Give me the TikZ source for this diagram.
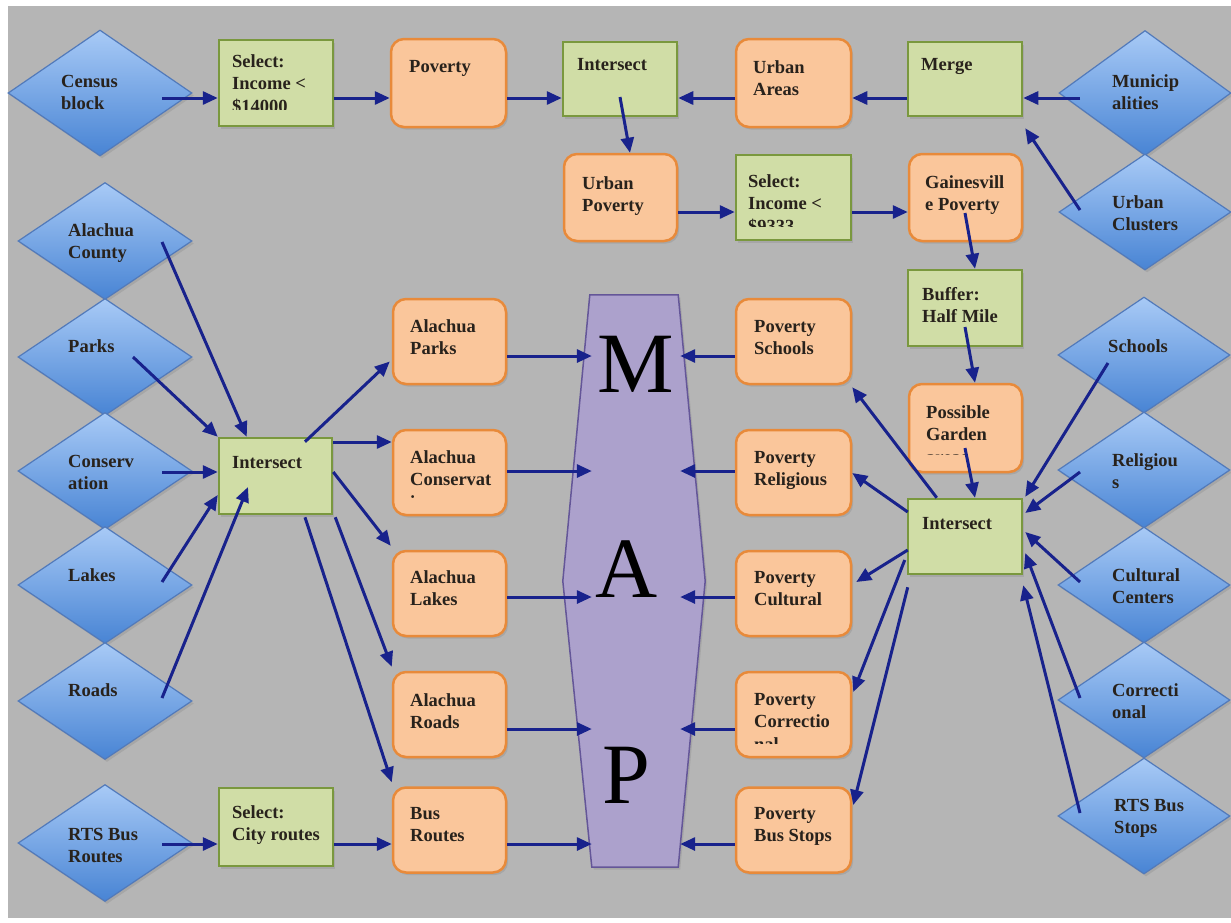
\documentclass[tikz,border=0pt]{standalone}
\usepackage{fontspec}
\setmainfont{Liberation Serif}
\usetikzlibrary{arrows.meta,calc,shapes.geometric,shadows}
\definecolor{bg}{RGB}{181,181,181}
\definecolor{gfill}{RGB}{208,221,166}
\definecolor{gdraw}{RGB}{122,152,62}
\definecolor{ofill}{RGB}{250,198,155}
\definecolor{odraw}{RGB}{232,138,58}
\definecolor{dtop}{RGB}{168,202,246}
\definecolor{dbot}{RGB}{72,132,212}
\definecolor{ddraw}{RGB}{82,122,186}
\definecolor{mfill}{RGB}{172,161,204}
\definecolor{mdraw}{RGB}{100,86,152}
\definecolor{arrc}{RGB}{24,34,140}
\definecolor{txtc}{RGB}{40,34,28}
\newcommand\tx[4]{\node[txt] (#1) at (#2,#3-15.75) {\strut #4};}
\begin{document}
\begin{tikzpicture}[x=1pt,y=-1pt,
  shad/.style={drop shadow={shadow xshift=2pt,shadow yshift=-2.5pt,opacity=0.28}},
  gbox/.style={rectangle,draw=gdraw,fill=gfill,line width=2.5pt,inner sep=0,shad},
  obox/.style={rectangle,rounded corners=13pt,draw=odraw,fill=ofill,line width=2.5pt,inner sep=0,shad},
  dia/.style={diamond,draw=ddraw,line width=1.2pt,top color=dtop,bottom color=dbot,inner sep=0,shad},
  ldia/.style={dia,minimum width=174pt,minimum height=117pt},
  rdia/.style={dia,minimum width=172pt,minimum height=116pt},
  mbox/.style={obox,minimum width=113pt,minimum height=85pt},
  rbox/.style={obox,minimum width=115pt,minimum height=85pt},
  txt/.style={inner sep=0,anchor=north west,align=left,text=txtc,font=\fontsize{18.5}{22.5}\selectfont\bfseries},
  big/.style={inner sep=0,anchor=base,text=black,font=\fontsize{86}{86}\selectfont},
  arr/.style={draw=arrc,line width=3pt,-{Triangle[length=15pt,width=13pt]}},
]
\useasboundingbox (0,0) rectangle (1231,922);
\fill[white] (0,0) rectangle (1231,922);
\fill[bg] (8,6) rectangle (1231,918);

% diamonds left
\node[dia,minimum width=184pt,minimum height=126pt] (census) at (100,93) {};
\node[ldia] (county) at (105,241) {};
\node[ldia] (parks) at (105,357) {};
\node[ldia] (conserv) at (105,471) {};
\node[ldia] (lakes) at (105,585) {};
\node[ldia] (roads) at (105,701) {};
\node[ldia] (routes) at (105,843) {};
% diamonds right
\node[dia,minimum width=172pt,minimum height=125pt] (muni) at (1145,93) {};
\node[rdia] (uclus) at (1145,212) {};
\node[rdia] (schools) at (1144,355) {};
\node[rdia] (relig) at (1144,470) {};
\node[rdia] (cult) at (1144,585) {};
\node[rdia] (corr) at (1144,700) {};
\node[rdia] (stops) at (1144,816) {};

% top boxes
\node[gbox,minimum width=114pt,minimum height=86pt] (sel1) at (276,83) {};
\node[obox,minimum width=115pt,minimum height=88pt] (pov) at (448.5,83) {};
\node[gbox,minimum width=114pt,minimum height=74pt] (int1) at (620,79) {};
\node[obox,minimum width=115pt,minimum height=88pt] (ua) at (793.5,83) {};
\node[gbox,minimum width=114pt,minimum height=74pt] (merge) at (965,79) {};
\node[obox,minimum width=113pt,minimum height=87pt] (upov) at (620.5,197.5) {};
\node[gbox,minimum width=115pt,minimum height=85pt] (sel2) at (793.5,197.5) {};
\node[obox,minimum width=113pt,minimum height=87pt] (gpov) at (965.5,197.5) {};
\node[gbox,minimum width=114pt,minimum height=76pt] (buf) at (965,308) {};
\node[obox,minimum width=113pt,minimum height=88pt] (pg) at (965.5,428) {};
\node[gbox,minimum width=114pt,minimum height=75pt] (int3) at (965,536.5) {};
\node[gbox,minimum width=113pt,minimum height=76pt] (int2) at (275.5,476) {};
\node[gbox,minimum width=114pt,minimum height=78pt] (sel3) at (276,827) {};
% middle boxes
\node[mbox] (ap) at (449.5,341.5) {};
\node[mbox] (ac) at (449.5,472.5) {};
\node[mbox] (al) at (449.5,593.5) {};
\node[mbox] (ar) at (449.5,714.5) {};
\node[mbox] (br) at (449.5,830) {};
\node[rbox] (ps) at (793.5,341.5) {};
\node[rbox] (pr) at (793.5,472.5) {};
\node[rbox] (pc) at (793.5,593.5) {};
\node[rbox] (pco) at (793.5,714.5) {};
\node[rbox] (pbs) at (793.5,830) {};

% MAP
\node[inner sep=0,minimum width=142pt,minimum height=572pt] (map) at (634,581) {};
\path[fill=mfill,draw=mdraw,line width=1.5pt,shad]
  ($(map.north west)+(27,0)$) -- ($(map.north east)+(-27,0)$) -- (map.east)
  -- ($(map.south east)+(-27,0)$) -- ($(map.south west)+(29,0)$) -- (map.west) -- cycle;
\node[big] (lm) at (636,392) {M};
\node[big] (la) at (627,597) {A};
\node[big] (lp) at (626,803) {P};

% texts
\tx{tcensus}{61}{87}{Census\\block}
\begin{scope}
\clip (sel1.north west) rectangle ($(sel1.south east)+(0,-18)$);
\tx{tsel1}{232}{67}{Select:\\Income <\\\$14000}
\end{scope}
\tx{tpov}{409}{72}{Poverty}
\tx{tint1}{577}{70}{Intersect}
\tx{tua}{753}{73}{Urban\\Areas}
\tx{tmerge}{921}{70}{Merge}
\tx{tmuni}{1112}{87}{Municip\\alities}
\tx{tuclus}{1112}{208}{Urban\\Clusters}
\tx{tupov}{582}{189}{Urban\\Poverty}
\begin{scope}
\clip (sel2.north west) rectangle ($(sel2.south east)+(0,-15)$);
\tx{tsel2}{748}{187}{Select:\\Income <\\\$9333}
\end{scope}
\tx{tgpov}{925}{188}{Gainesvill\\e Poverty}
\tx{tbuf}{922}{300}{Buffer:\\Half Mile}
\begin{scope}
\clip (pg.north west) rectangle ($(pg.south east)+(0,-18.5)$);
\tx{tpg}{926}{418}{Possible\\Garden\\areas}
\end{scope}
\tx{tint3}{922}{529}{Intersect}
\tx{tcounty}{68}{236}{Alachua\\County}
\tx{tparks}{68}{352}{Parks}
\tx{tconserv}{68}{467}{Conserv\\ation}
\tx{tlakes}{68}{581}{Lakes}
\tx{troads}{68}{696}{Roads}
\tx{troutes}{68}{840}{RTS Bus\\Routes}
\tx{tint2}{232}{468}{Intersect}
\tx{tsel3}{232}{818}{Select:\\City routes}
\tx{tap}{410}{332}{Alachua\\Parks}
\begin{scope}
\clip (ac.north west) rectangle ($(ac.south east)+(0,-18)$);
\tx{tac}{410}{463}{Alachua\\Conservat\\ion}
\end{scope}
\tx{tal}{410}{583}{Alachua\\Lakes}
\tx{tar}{410}{706}{Alachua\\Roads}
\tx{tbr}{410}{819}{Bus\\Routes}
\tx{tps}{754}{332}{Poverty\\Schools}
\tx{tpr}{754}{463}{Poverty\\Religious}
\tx{tpc}{754}{583}{Poverty\\Cultural}
\begin{scope}
\clip (pco.north west) rectangle ($(pco.south east)+(0,-15)$);
\tx{tpco}{754}{705}{Poverty\\Correctio\\nal}
\end{scope}
\tx{tpbs}{754}{819}{Poverty\\Bus Stops}
\tx{tschools}{1108}{352}{Schools}
\tx{trelig}{1112}{466}{Religiou\\s}
\tx{tcult}{1112}{581}{Cultural\\Centers}
\tx{tcorr}{1112}{696}{Correcti\\onal}
\tx{tstops}{1114}{811}{RTS Bus\\Stops}

% arrows top
\draw[arr] ($(census.center)+(62,5)$) -- ($(sel1.west)+(0,15)$);
\draw[arr] ($(sel1.east)+(0,15)$) -- ($(pov.west)+(0,15)$);
\draw[arr] ($(pov.east)+(0,15)$) -- ($(int1.west)+(0,19)$);
\draw[arr] ($(ua.west)+(0,15)$) -- ($(int1.east)+(0,19)$);
\draw[arr] ($(merge.west)+(0,19)$) -- ($(ua.east)+(0,15)$);
\draw[arr] ($(muni.center)+(-65,5)$) -- ($(merge.east)+(0,19)$);
\draw[arr] ($(uclus.center)+(-65,-2)$) -- ($(merge.south east)+(2,11)$);
\draw[arr] ($(int1.center)+(0,18)$) -- ($(upov.north)+(9.5,0)$);
\draw[arr] ($(upov.east)+(0,14.5)$) -- ($(sel2.west)+(0,14.5)$);
\draw[arr] ($(sel2.east)+(0,14.5)$) -- ($(gpov.west)+(0,14.5)$);
\draw[arr] ($(gpov.center)+(-0.5,15.5)$) -- ($(buf.north)+(10,0)$);
\draw[arr] ($(buf.center)+(0,19)$) -- ($(pg.north)+(9.5,0)$);
\draw[arr] ($(pg.center)+(-0.5,20)$) -- ($(int3.north)+(10,0)$);
% left inputs
\draw[arr] ($(county.center)+(57,1)$) -- ($(int2.north west)+(29,0)$);
\draw[arr] ($(parks.center)+(28,0)$) -- (int2.north west);
\draw[arr] ($(conserv.center)+(57,1)$) -- ($(int2.west)+(0,-4)$);
\draw[arr] ($(lakes.center)+(57,-3)$) -- ($(int2.west)+(0,19)$);
\draw[arr] ($(roads.center)+(57,-3)$) -- ($(int2.center)+(-27.5,11)$);
% left outputs
\draw[arr] ($(int2.north)+(29.5,5)$) -- ($(ap.west)+(-2,20)$);
\draw[arr] ($(int2.east)+(0,-34)$) -- ($(ac.west)+(0,-30.5)$);
\draw[arr] ($(int2.east)+(0,-4)$) -- ($(al.north west)+(-1,-4)$);
\draw[arr] ($(int2.south east)+(2,2)$) -- ($(ar.north west)+(0,-4)$);
\draw[arr] ($(int2.south)+(29.5,2)$) -- ($(br.north west)+(0,-4)$);
% bottom
\draw[arr] ($(routes.center)+(57,1)$) -- ($(sel3.west)+(0,17)$);
\draw[arr] ($(sel3.east)+(0,17)$) -- ($(br.west)+(0,14)$);
% into MAP
\draw[arr] ($(ap.east)+(0,14.5)$) -- ($(map.west)+(29,-225)$);
\draw[arr] ($(ac.east)+(0,-1.5)$) -- ($(map.west)+(29,-110)$);
\draw[arr] ($(al.east)+(0,3.5)$) -- ($(map.west)+(29,16)$);
\draw[arr] ($(ar.east)+(0,14.5)$) -- ($(map.west)+(29,148)$);
\draw[arr] ($(br.east)+(0,14)$) -- ($(map.west)+(29,263)$);
\draw[arr] ($(ps.west)+(0,14.5)$) -- ($(map.east)+(-25,-225)$);
\draw[arr] ($(pr.west)+(0,-1.5)$) -- ($(map.east)+(-25,-110)$);
\draw[arr] ($(pc.west)+(0,3.5)$) -- ($(map.east)+(-25,16)$);
\draw[arr] ($(pco.west)+(0,14.5)$) -- ($(map.east)+(-25,148)$);
\draw[arr] ($(pbs.west)+(0,14)$) -- ($(map.east)+(-25,263)$);
% right outputs
\draw[arr] ($(int3.north west)+(30,0)$) -- ($(ps.south east)+(0,2)$);
\draw[arr] ($(int3.west)+(1,-24.5)$) -- ($(pr.east)+(0,0.5)$);
\draw[arr] ($(int3.west)+(1,13.5)$) -- ($(pc.east)+(4,-11.5)$);
\draw[arr] ($(int3.west)+(-2,23.5)$) -- ($(pco.east)+(1,-22.5)$);
\draw[arr] ($(int3.south west)+(1,12)$) -- ($(pbs.east)+(1,-25)$);
% right inputs
\draw[arr] ($(schools.center)+(-36,8)$) -- ($(int3.north east)+(2,-1)$);
\draw[arr] ($(relig.center)+(-64,2)$) -- ($(int3.east)+(2,-23.5)$);
\draw[arr] ($(cult.center)+(-64,-3)$) -- ($(int3.east)+(2,-4.5)$);
\draw[arr] ($(corr.center)+(-64,-2)$) -- ($(int3.east)+(2,16.5)$);
\draw[arr] ($(stops.center)+(-64,-3)$) -- ($(int3.south east)+(0,10)$);
\end{tikzpicture}
\end{document}
